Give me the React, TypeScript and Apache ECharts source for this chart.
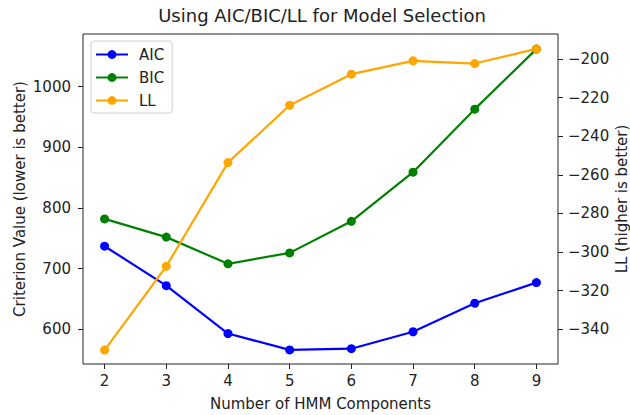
import React, { useEffect, useRef } from "react";
import * as echarts from "echarts";

const components = [2, 3, 4, 5, 6, 7, 8, 9];
const aicValues = [737, 672, 593, 566, 568, 596, 643, 677];
const bicValues = [782, 752, 708, 726, 778, 859, 963, 1062];
const llValues = [-350.8, -307.4, -253.7, -224.0, -207.9, -201.0, -202.4, -194.8];
const leftTicks = [600, 700, 800, 900, 1000];
const rightTicks = [-340, -320, -300, -280, -260, -240, -220, -200];

const FONT = "DejaVu Sans";
const TXT = "#222";
const FS = 15;

export default function App() {
  const ref = useRef<HTMLDivElement>(null);
  useEffect(() => {
    document.body.style.margin = "0";
    const chart = echarts.init(ref.current!, null, { renderer: "svg" });
    const pairs = (vals: number[]) => components.map((c, i) => [c, vals[i]]);
    const tickCommon = { show: true, length: 5, lineStyle: { color: TXT, width: 1 } };
    chart.setOption({
      animation: false,
      backgroundColor: "#fff",
      title: {
        text: "Using AIC/BIC/LL for Model Selection",
        left: 322,
        top: 6,
        textAlign: "center",
        padding: 0,
        textStyle: { fontFamily: FONT, fontSize: 18, fontWeight: "normal", color: TXT },
      },
      grid: {
        left: 83,
        right: 72,
        top: 34,
        bottom: 51,
        show: true,
        borderColor: TXT,
        borderWidth: 1,
        backgroundColor: "transparent",
        containLabel: false,
        outerBoundsMode: "none",
      },
      legend: {
        orient: "vertical",
        left: 91,
        top: 41,
        padding: [6, 8, 5, 4],
        itemWidth: 32,
        itemHeight: 11,
        itemGap: 8,
        borderColor: "#d0d0d0",
        borderWidth: 1,
        borderRadius: 3,
        backgroundColor: "#fff",
        textStyle: { fontFamily: FONT, fontSize: FS, color: TXT, padding: [0, 0, 0, 6] },
        data: ["AIC", "BIC", "LL"],
      },
      xAxis: {
        type: "value",
        min: 1.65,
        max: 9.35,
        name: "Number of HMM Components",
        nameLocation: "middle",
        nameGap: 32,
        nameMoveOverlap: false,
        nameTextStyle: { fontFamily: FONT, fontSize: FS, color: TXT },
        axisLine: { show: false },
        splitLine: { show: false },
        axisTick: { ...tickCommon, customValues: components },
        axisLabel: {
          customValues: components,
          margin: 9,
          fontFamily: FONT,
          fontSize: FS,
          color: TXT,
        },
      },
      yAxis: [
        {
          type: "value",
          position: "left",
          min: 542.8,
          max: 1086.9,
          name: "Criterion Value (lower is better)",
          nameLocation: "middle",
          nameGap: 56,
          nameMoveOverlap: false,
          nameTextStyle: { fontFamily: FONT, fontSize: FS, color: TXT },
          axisLine: { show: false },
          splitLine: { show: false },
          axisTick: { ...tickCommon, customValues: leftTicks },
          axisLabel: {
            customValues: leftTicks,
            margin: 12,
            fontFamily: FONT,
            fontSize: FS,
            color: TXT,
            formatter: (v: number) => String(v),
          },
        },
        {
          type: "value",
          position: "right",
          min: -358.0,
          max: -187.1,
          name: "LL (higher is better)",
          nameLocation: "middle",
          nameGap: 56,
          nameRotate: 90,
          nameMoveOverlap: false,
          nameTextStyle: { fontFamily: FONT, fontSize: FS, color: TXT },
          axisLine: { show: false },
          splitLine: { show: false },
          axisTick: { ...tickCommon, customValues: rightTicks },
          axisLabel: {
            customValues: rightTicks,
            margin: 10,
            fontFamily: FONT,
            fontSize: FS,
            color: TXT,
            formatter: (v: number) => String(v).replace("-", "\u2212"),
          },
        },
      ],
      series: [
        {
          name: "AIC",
          type: "line",
          yAxisIndex: 0,
          data: pairs(aicValues),
          symbol: "circle",
          symbolSize: 9,
          lineStyle: { color: "#0000ff", width: 2.2 },
          itemStyle: { color: "#0000ff" },
        },
        {
          name: "BIC",
          type: "line",
          yAxisIndex: 0,
          data: pairs(bicValues),
          symbol: "circle",
          symbolSize: 9,
          lineStyle: { color: "#008000", width: 2.2 },
          itemStyle: { color: "#008000" },
        },
        {
          name: "LL",
          type: "line",
          yAxisIndex: 1,
          data: pairs(llValues),
          symbol: "circle",
          symbolSize: 9,
          lineStyle: { color: "#ffa500", width: 2.2 },
          itemStyle: { color: "#ffa500" },
        },
      ],
    });
    return () => chart.dispose();
  }, []);
  return <div ref={ref} style={{ width: 630, height: 415 }} />;
}
